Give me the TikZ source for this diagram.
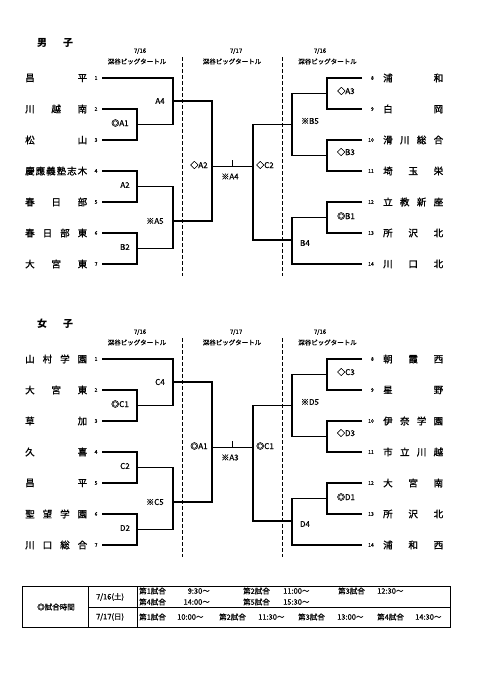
\documentclass[tikz,border=0pt]{standalone}
\usepackage{fontspec}
\setmainfont{Noto Sans CJK JP}
\newfontfamily\namefont[FakeBold=1.2]{Noto Sans CJK JP}
\newfontfamily\labfont[FakeBold=0.6]{Noto Sans CJK JP}
\newcommand\fsz[1]{\fontsize{#1}{#1}\selectfont}
\tikzset{
  br/.style={line width=1.2pt},
  dsh/.style={line width=1.1pt, dash pattern=on 4pt off 2pt},
  tnameL/.style={anchor=west, inner sep=0pt, font=\namefont\fsz{9.5}},
  tnum/.style={inner sep=0pt, font=\labfont\fsz{5}},
  lab/.style={inner sep=0pt, font=\labfont\fsz{8}},
  hdr/.style={inner sep=0pt, font=\labfont\fsz{6.5}},
  hdrd/.style={inner sep=0pt, font=\labfont\fsz{6}},
  ttl/.style={inner sep=0pt, font=\fsz{10}\bfseries},
  tbl/.style={inner sep=0pt, font=\labfont\fsz{7.5}},
}
\newcommand\drawsection[1]{%
  % headers
  \node[hdrd] (#1h1) at (140,51) {7/16};
  \node[hdr]  (#1g1) at (137,61.5) {深谷ビッグタートル};
  \node[hdrd] (#1h2) at (236,51) {7/17};
  \node[hdr]  (#1g2) at (232,61.5) {深谷ビッグタートル};
  \node[hdrd] (#1h3) at (320,51) {7/16};
  \node[hdr]  (#1g3) at (327.5,61.5) {深谷ビッグタートル};
  % dashed separators
  \coordinate (#1d1t) at (182.3,57); \coordinate (#1d1b) at (182.3,276);
  \coordinate (#1d2t) at (282.7,57); \coordinate (#1d2b) at (282.7,276);
  \draw[dsh] (#1d1t) -- (#1d1b);
  \draw[dsh] (#1d2t) -- (#1d2b);
  % team line ends and numbers
  \foreach \k/\y in {1/78,2/109,3/140,4/171,5/202,6/233,7/264}{
    \coordinate (#1s\k) at (102,\y);
    \node[tnum] (#1num\k) at (96,\y) {\k};
  }
  \foreach \k/\y in {8/78,9/109,10/140,11/171,12/202,13/233,14/264}{
    \coordinate (#1s\k) at (362,\y);
    \node[tnum, anchor=east] (#1num\k) at (374,\y) {\k};
  }
  % junctions
  \coordinate (#1qa1) at (137,124.5);
  \coordinate (#1qa4) at (173,101);
  \coordinate (#1qa2) at (137,186.5);
  \coordinate (#1qb2) at (137,248.5);
  \coordinate (#1qa5) at (173,221);
  \coordinate (#1sf)  at (212,166.7);
  \coordinate (#1rf)  at (253,166.7);
  \coordinate (#1tk)  at (232.5,166.7);
  \coordinate (#1tkt) at (232.5,160);
  \coordinate (#1ra3) at (327,93.5);
  \coordinate (#1rb3) at (327,155.5);
  \coordinate (#1rb5) at (292,124.5);
  \coordinate (#1rb1) at (327,217.5);
  \coordinate (#1rb4) at (292,240);
  % left brackets
  \draw[br] (#1s2) -| (#1qa1) |- (#1s3);
  \draw[br] (#1s1) -| (#1qa4) |- (#1qa1);
  \draw[br] (#1s4) -| (#1qa2) |- (#1s5);
  \draw[br] (#1s6) -| (#1qb2) |- (#1s7);
  \draw[br] (#1qa2) -| (#1qa5) |- (#1qb2);
  \draw[br] (#1qa4) -| (#1sf) |- (#1qa5);
  % final
  \draw[br] (#1sf) -- (#1rf);
  \draw[br] (#1tk) -- (#1tkt);
  % right brackets
  \draw[br] (#1s8) -| (#1ra3) |- (#1s9);
  \draw[br] (#1s10) -| (#1rb3) |- (#1s11);
  \draw[br] (#1ra3) -| (#1rb5) |- (#1rb3);
  \draw[br] (#1s12) -| (#1rb1) |- (#1s13);
  \draw[br] (#1rb1) -| (#1rb4) |- (#1s14);
  \draw[br] (#1rb5) -| (#1rf) |- (#1rb4);
}
\begin{document}
\begin{tikzpicture}[x=1pt,y=-1pt]
\useasboundingbox (0,0) rectangle (481,680);
\fill[white] (0,0) rectangle (481,680);
% ===== Men =====
\begin{scope}
  \node[ttl] (mt1) at (42,43) {男};
  \node[ttl] (mt2) at (68,43) {子};
  \drawsection{m}
  \foreach \k/\y/\nm in {1/78/{昌\hfill 平},2/109/{川\hfill 越\hfill 南},3/140/{松\hfill 山},
      4/171/{慶\hfill 應\hfill 義\hfill 塾\hfill 志\hfill 木},5/202/{春\hfill 日\hfill 部},
      6/233/{春\hfill 日\hfill 部\hfill 東},7/264/{大\hfill 宮\hfill 東}}{
    \node[tnameL] (mn\k) at (25,\y) {\hbox to 62pt{\nm}};
  }
  \foreach \k/\y/\nm in {8/78/{浦\hfill 和},9/109/{白\hfill 岡},10/140/{滑\hfill 川\hfill 総\hfill 合},
      11/171/{埼\hfill 玉\hfill 栄},12/202/{立\hfill 教\hfill 新\hfill 座},
      13/233/{所\hfill 沢\hfill 北},14/264/{川\hfill 口\hfill 北}}{
    \node[tnameL] (mn\k) at (383,\y) {\hbox to 60pt{\nm}};
  }
  \node[lab] (ml1) at (160,101) {A4};
  \node[lab] (ml2) at (120,123) {◎A1};
  \node[lab] (ml3) at (125,185) {A2};
  \node[lab] (ml4) at (125,247) {B2};
  \node[lab] (ml5) at (155,221) {※A5};
  \node[lab] (ml6) at (199,165) {◇A2};
  \node[lab] (ml7) at (230,176.5) {※A4};
  \node[lab] (ml8) at (265,165) {◇C2};
  \node[lab] (ml9) at (346,91) {◇A3};
  \node[lab] (ml10) at (310,121) {※B5};
  \node[lab] (ml11) at (346,152) {◇B3};
  \node[lab] (ml12) at (346,216) {◎B1};
  \node[lab] (ml13) at (305,243) {B4};
\end{scope}
% ===== Women =====
\begin{scope}[yshift=-281pt]
  \node[ttl] (wt1) at (42,43) {女};
  \node[ttl] (wt2) at (68,43) {子};
  \drawsection{w}
  \foreach \k/\y/\nm in {1/78/{山\hfill 村\hfill 学\hfill 園},2/109/{大\hfill 宮\hfill 東},3/140/{草\hfill 加},
      4/171/{久\hfill 喜},5/202/{昌\hfill 平},
      6/233/{聖\hfill 望\hfill 学\hfill 園},7/264/{川\hfill 口\hfill 総\hfill 合}}{
    \node[tnameL] (wn\k) at (25,\y) {\hbox to 62pt{\nm}};
  }
  \foreach \k/\y/\nm in {8/78/{朝\hfill 霞\hfill 西},9/109/{星\hfill 野},10/140/{伊\hfill 奈\hfill 学\hfill 園},
      11/171/{市\hfill 立\hfill 川\hfill 越},12/202/{大\hfill 宮\hfill 南},
      13/233/{所\hfill 沢\hfill 北},14/264/{浦\hfill 和\hfill 西}}{
    \node[tnameL] (wn\k) at (383,\y) {\hbox to 60pt{\nm}};
  }
  \node[lab] (wl1) at (160,101) {C4};
  \node[lab] (wl2) at (120,123) {◎C1};
  \node[lab] (wl3) at (125,185) {C2};
  \node[lab] (wl4) at (125,247) {D2};
  \node[lab] (wl5) at (155,221) {※C5};
  \node[lab] (wl6) at (199,165) {◎A1};
  \node[lab] (wl7) at (230,176.5) {※A3};
  \node[lab] (wl8) at (265,165) {◎C1};
  \node[lab] (wl9) at (346,91) {◇C3};
  \node[lab] (wl10) at (310,121) {※D5};
  \node[lab] (wl11) at (346,152) {◇D3};
  \node[lab] (wl12) at (346,216) {◎D1};
  \node[lab] (wl13) at (305,243) {D4};
\end{scope}
% ===== Schedule table =====
\coordinate (tA) at (22.7,586.7);
\coordinate (tB) at (450.7,627.3);
\coordinate (tv1t) at (88.3,586.7); \coordinate (tv1b) at (88.3,627.3);
\coordinate (tv2t) at (137.3,586.7); \coordinate (tv2b) at (137.3,627.3);
\coordinate (thl) at (88.3,607.3); \coordinate (thr) at (450.7,607.3);
\draw[line width=1pt] (tA) rectangle (tB);
\draw[line width=0.9pt] (tv1t) -- (tv1b);
\draw[line width=0.9pt] (tv2t) -- (tv2b);
\draw[line width=0.9pt] (thl) -- (thr);
\node[tbl] (tt) at (56,607) {◎試合時間};
\node[tbl] (td1) at (110,597) {7/16(土)};
\node[tbl] (td2) at (110,617) {7/17(日)};
\node[tbl, anchor=west] (r11) at (139,591) {第1試合};
\node[tbl, anchor=east] (r12) at (210,591) {9:30～};
\node[tbl, anchor=west] (r13) at (243,591) {第2試合};
\node[tbl, anchor=west] (r14) at (283,591) {11:00～};
\node[tbl, anchor=west] (r15) at (338,591) {第3試合};
\node[tbl, anchor=west] (r16) at (377,591) {12:30～};
\node[tbl, anchor=west] (r21) at (139,602) {第4試合};
\node[tbl, anchor=east] (r22) at (210,602) {14:00～};
\node[tbl, anchor=west] (r23) at (243,602) {第5試合};
\node[tbl, anchor=west] (r24) at (283,602) {15:30～};
\node[tbl, anchor=west] (s11) at (139,617) {第1試合};
\node[tbl, anchor=west] (s12) at (177,617) {10:00～};
\node[tbl, anchor=west] (s13) at (219,617) {第2試合};
\node[tbl, anchor=west] (s14) at (258,617) {11:30～};
\node[tbl, anchor=west] (s15) at (298,617) {第3試合};
\node[tbl, anchor=west] (s16) at (337,617) {13:00～};
\node[tbl, anchor=west] (s17) at (377,617) {第4試合};
\node[tbl, anchor=west] (s18) at (415,617) {14:30～};
\end{tikzpicture}
\end{document}
